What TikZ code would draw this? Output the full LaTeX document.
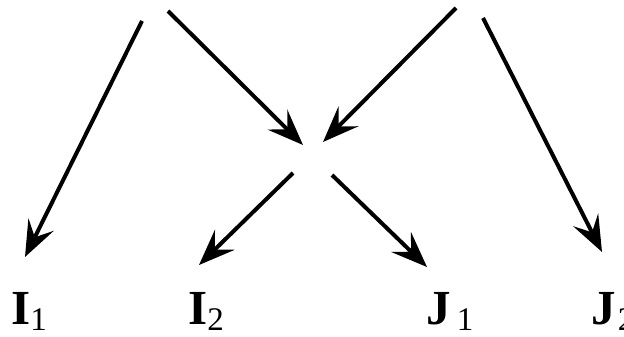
\documentclass[tikz,border=0pt]{standalone}
\usepackage{fontspec}
\setmainfont{Liberation Serif}
\usetikzlibrary{arrows.meta}
\newcommand{\sublbl}[3][0pt]{\textbf{#2}\hspace{#1}\raisebox{-3.4pt}{\fontsize{16.5}{18}\selectfont #3}}
\tikzset{
  branch/.style={-{Stealth[length=18pt, width=14pt, inset=7pt]}, line width=2pt, draw=black},
  lbl/.style={font=\fontsize{24.5}{28}\selectfont, inner sep=0pt, anchor=base west}
}
\begin{document}
\begin{tikzpicture}[x=0.5pt, y=-0.5pt]
  \useasboundingbox (0,0) rectangle (624,336);
  % free ends of the branches
  \coordinate (topL1) at (142,21);
  \coordinate (topL2) at (168,11);
  \coordinate (topR1) at (456,8);
  \coordinate (topR2) at (483,18);
  \coordinate (midL) at (303,145);
  \coordinate (midR) at (323,142);
  \coordinate (outL) at (293,173);
  \coordinate (outR) at (332,175);
  \coordinate (endI1) at (25,257);
  \coordinate (endI2) at (199,265);
  \coordinate (endJ1) at (427,267);
  \coordinate (endJ2) at (602,252);
  % labels
  \node[lbl] (I1) at (11,324) {\sublbl{I}{1}};
  \node[lbl] (I2) at (188,324) {\sublbl{I}{2}};
  \node[lbl] (J1) at (426,324) {\sublbl[3pt]{J}{1}};
  \node[lbl] (J2) at (591,324) {\sublbl[1pt]{J}{2}};
  % arrows
  \draw[branch] (topL1) -- (endI1);
  \draw[branch] (topL2) -- (midL);
  \draw[branch] (topR1) -- (midR);
  \draw[branch] (topR2) -- (endJ2);
  \draw[branch] (outL) -- (endI2);
  \draw[branch] (outR) -- (endJ1);
\end{tikzpicture}
\end{document}
